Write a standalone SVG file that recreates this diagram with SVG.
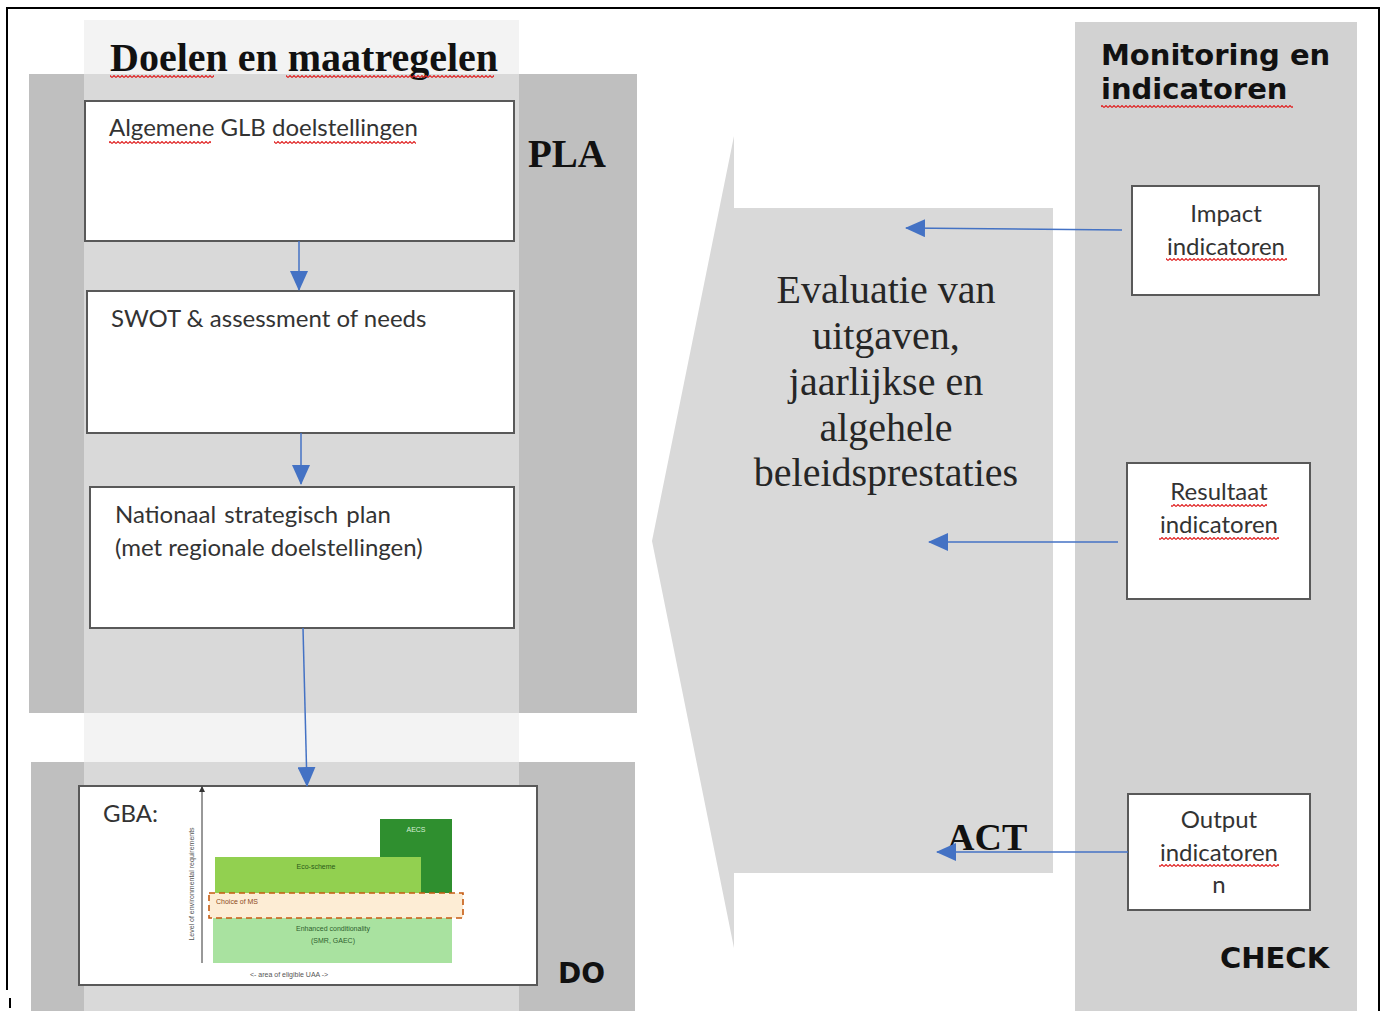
<svg xmlns="http://www.w3.org/2000/svg" width="1384" height="1011" viewBox="0 0 1384 1011">
<style>
.box{fill:#ffffff;stroke:#595959;stroke-width:2}
.btxt{font-family:Lato,"Open Sans",sans-serif;font-size:24px;fill:#333333}
.ctr{text-anchor:middle}
.serifB{font-family:"Liberation Serif","Times New Roman",serif;font-weight:bold;fill:#111111}
.sansB{font-family:"DejaVu Sans",Verdana,sans-serif;font-weight:bold;fill:#111111}
.eval{font-family:"Liberation Serif","Times New Roman",serif;font-size:40px;fill:#262626;text-anchor:middle}
.conn{stroke:#4472c4;stroke-width:1.5;fill:none;marker-end:url(#ah)}
.wavy{fill:url(#wavy)}
.tiny{font-family:"Liberation Sans",Arial,sans-serif;font-size:7px}
</style>
<defs>
<marker id="ah" markerUnits="userSpaceOnUse" markerWidth="20" markerHeight="18" refX="19" refY="9" orient="auto">
<path d="M0,0 L20,9 L0,18 z" fill="#4472c4"/>
</marker>
<marker id="axh" markerUnits="userSpaceOnUse" markerWidth="6" markerHeight="6" refX="5" refY="3" orient="auto">
<path d="M0,0 L6,3 L0,6 z" fill="#333333"/>
</marker>
<pattern id="wavy" patternUnits="userSpaceOnUse" width="4" height="3">
<path d="M0,2.5 L2,0.5 L4,2.5" fill="none" stroke="#e02020" stroke-width="1.1"/>
</pattern>
</defs>
<rect x="0" y="0" width="1384" height="1011" fill="#ffffff"/>
<!-- frame -->
<g id="frame" stroke="#000000" stroke-width="2" fill="none">
<path d="M7,990 L7,8 L1379,8 L1379,1011"/>
<path d="M10,998 L10,1008"/>
</g>
<!-- PLA panel -->
<g id="pla-panel">
<rect x="84" y="20" width="435" height="54" fill="#f3f3f3"/>
<rect x="29" y="74" width="608" height="639" fill="#bfbfbf"/>
<rect x="84" y="74" width="435" height="639" fill="#d9d9d9"/>
<rect x="84" y="713" width="435" height="49" fill="#f3f3f3"/>
<text class="serifB" x="110" y="71" font-size="40">Doelen en maatregelen</text>
<rect class="wavy" x="110" y="75" width="104" height="3"/>
<rect class="wavy" x="286" y="75" width="208" height="3"/>
<text class="serifB" x="528" y="167" font-size="39">PLA</text>
</g>
<!-- DO panel -->
<g id="do-panel">
<rect x="31" y="762" width="604" height="249" fill="#bfbfbf"/>
<rect x="84" y="762" width="435" height="249" fill="#d9d9d9"/>
<text class="sansB" x="558" y="983" font-size="28">DO</text>
</g>
<!-- middle ACT arrow shape -->
<g id="act-panel">
<path d="M734,136 L734,208 L1053,208 L1053,873 L734,873 L734,948 L652,541 Z" fill="#d9d9d9"/>
<text class="eval" x="886" y="303">Evaluatie van</text>
<text class="eval" x="886" y="349">uitgaven,</text>
<text class="eval" x="886" y="395">jaarlijkse en</text>
<text class="eval" x="886" y="441">algehele</text>
<text class="eval" x="886" y="486">beleidsprestaties</text>
<text class="serifB" x="947" y="850" font-size="38">ACT</text>
</g>
<!-- CHECK panel -->
<g id="check-panel">
<rect x="1075" y="22" width="282" height="989" fill="#d2d2d2"/>
<text class="sansB" x="1101" y="65" font-size="29">Monitoring en</text>
<text class="sansB" x="1101" y="99" font-size="29">indicatoren</text>
<rect class="wavy" x="1101" y="105" width="192" height="3"/>
<text class="sansB" x="1220" y="968" font-size="29">CHECK</text>
</g>
<!-- nodes -->
<g id="node-algemene">
<rect class="box" x="85" y="101" width="429" height="140"/>
<text class="btxt" x="109" y="136">Algemene GLB doelstellingen</text>
<rect class="wavy" x="109" y="141" width="102" height="3"/>
<rect class="wavy" x="274" y="141" width="142" height="3"/>
</g>
<g id="node-swot">
<rect class="box" x="87" y="291" width="427" height="142"/>
<text class="btxt" x="111" y="327">SWOT &amp; assessment of needs</text>
</g>
<g id="node-nsp">
<rect class="box" x="90" y="487" width="424" height="141"/>
<text class="btxt" x="115" y="523" word-spacing="2">Nationaal strategisch plan</text>
<text class="btxt" x="115" y="556">(met regionale doelstellingen)</text>
</g>
<g id="node-gba">
<rect class="box" x="79" y="786" width="458" height="199"/>
<text class="btxt" x="103" y="822">GBA:</text>
<line x1="202" y1="963" x2="202" y2="787" stroke="#333333" stroke-width="1" marker-end="url(#axh)"/>
<text class="tiny" fill="#555555" text-anchor="middle" transform="translate(194,884) rotate(-90)">Level of environmental requirements</text>
<rect x="213" y="918" width="239" height="45" fill="#a9e2a0"/>
<text class="tiny ctr" x="333" y="931" fill="#2f5f2f">Enhanced conditionality</text>
<text class="tiny ctr" x="333" y="943" fill="#2f5f2f">(SMR, GAEC)</text>
<rect x="380" y="819" width="72" height="74" fill="#2f8f2f"/>
<rect x="215" y="857" width="206" height="36" fill="#92d050"/>
<text class="tiny ctr" x="416" y="832" fill="#d8f0d8">AECS</text>
<text class="tiny ctr" x="316" y="869" fill="#2a5a1a">Eco-scheme</text>
<rect x="209" y="893" width="254" height="25" fill="#fdebd0" fill-opacity="0.9" stroke="#c55a11" stroke-width="1.6" stroke-dasharray="6,4"/>
<text class="tiny" x="216" y="904" fill="#8b4a20">Choice of MS</text>
<text class="tiny" x="250" y="977" fill="#555555">&lt;-   area of eligible UAA -&gt;</text>
</g>
<g id="node-impact">
<rect class="box" x="1132" y="186" width="187" height="109"/>
<text class="btxt ctr" x="1226" y="222">Impact</text>
<text class="btxt ctr" x="1226" y="255">indicatoren</text>
<rect class="wavy" x="1166" y="258" width="121" height="3"/>
</g>
<g id="node-resultaat">
<rect class="box" x="1127" y="463" width="183" height="136"/>
<text class="btxt ctr" x="1219" y="500">Resultaat</text>
<text class="btxt ctr" x="1219" y="533">indicatoren</text>
<rect class="wavy" x="1171" y="504" width="96" height="3"/>
<rect class="wavy" x="1159" y="537" width="120" height="3"/>
</g>
<g id="node-output">
<rect class="box" x="1128" y="794" width="182" height="116"/>
<text class="btxt ctr" x="1219" y="828">Output</text>
<text class="btxt ctr" x="1219" y="861">indicatoren</text>
<rect class="wavy" x="1159" y="864" width="120" height="3"/>
<text class="btxt ctr" x="1219" y="893">n</text>
</g>
<!-- connectors -->
<g id="connectors">
<line class="conn" x1="299" y1="241" x2="299" y2="290"/>
<line class="conn" x1="301" y1="433" x2="301" y2="484"/>
<line class="conn" x1="303" y1="628" x2="307" y2="786"/>
<line class="conn" x1="1122" y1="230" x2="906" y2="228"/>
<line class="conn" x1="1118" y1="542" x2="929" y2="542"/>
<line class="conn" x1="1128" y1="852" x2="937" y2="852"/>
</g>
</svg>
